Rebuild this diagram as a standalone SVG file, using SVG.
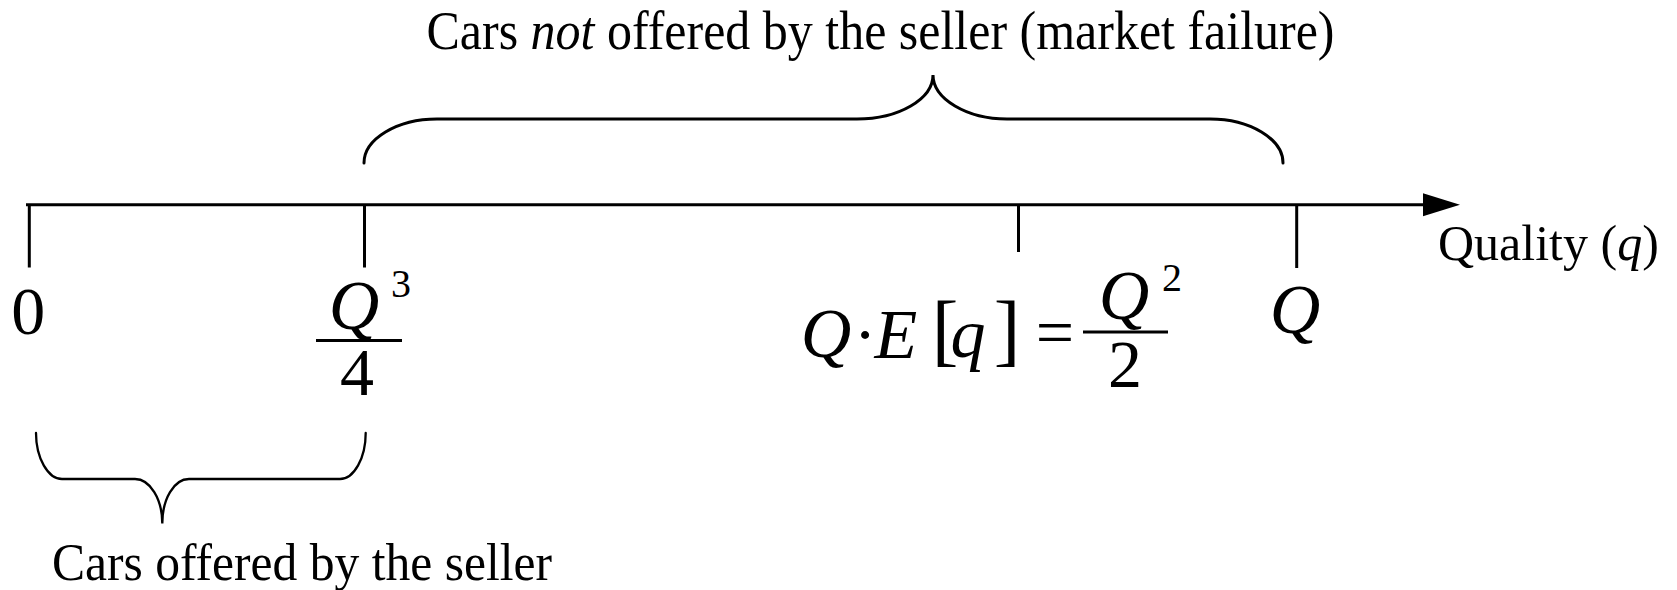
<svg xmlns="http://www.w3.org/2000/svg" width="1677" height="590" viewBox="0 0 1677 590">
  <style>
    .ln { stroke: #000; stroke-width: 3; fill: none; }
    .br { stroke: #000; stroke-width: 3; fill: none; stroke-linecap: round; }
    .br2 { stroke: #000; stroke-width: 2.3; fill: none; stroke-linecap: round; }
    .lbl { font-family: "Liberation Serif", "Times New Roman", serif; fill: #000; }
    .m { font-family: "Liberation Serif", "Times New Roman", serif; font-size: 68px; fill: #000; text-anchor: middle; }
    .mi { font-style: italic; font-size: 70px; }
    .sup { font-size: 40px; }
    .bk { font-size: 80px; }
  </style>
  <rect width="1677" height="590" fill="#fff"/>

  <g id="connectors">
    <line class="ln" x1="26" y1="204.8" x2="1425" y2="204.8"/>
    <polygon points="1423,193.3 1460,204.8 1423,216.3" fill="#000"/>
    <line class="ln" x1="29.3" y1="204.8" x2="29.3" y2="267.5"/>
    <line class="ln" x1="364.5" y1="204.8" x2="364.5" y2="267.5"/>
    <line class="ln" x1="1018.5" y1="204.8" x2="1018.5" y2="252"/>
    <line class="ln" x1="1296.7" y1="204.8" x2="1296.7" y2="268"/>
  </g>

  <g id="brace-top">
    <path class="br" d="M364,163 C364,139 397,119 437,119 H857 C899,119 933,99 933,75 C933,99 967,119 1007,119 H1210 C1250,119 1283,139 1283,163"/>
    <text class="lbl" x="426.5" y="49" font-size="54" textLength="908" lengthAdjust="spacingAndGlyphs">Cars <tspan font-style="italic">not</tspan> offered by the seller (market failure)</text>
  </g>

  <g id="brace-bottom">
    <path class="br2" d="M36,433 C36,458 48,479 62,479 H135 C150,479 162.3,499 162.3,523.5 C162.3,499 174,479 189,479 H340 C354,479 365.7,458 365.7,433"/>
    <text class="lbl" x="52" y="580" font-size="52" textLength="500" lengthAdjust="spacingAndGlyphs">Cars offered by the seller</text>
  </g>

  <g id="axis-label">
    <text class="lbl" x="1438" y="260" font-size="50">Quality (<tspan font-style="italic">q</tspan>)</text>
  </g>

  <g id="tick-0">
    <text class="m" x="28.3" y="334">0</text>
  </g>

  <g id="tick-q4">
    <text class="m mi" x="354" y="329">Q</text>
    <text class="m sup" x="401" y="297">3</text>
    <line class="ln" x1="316" y1="340.5" x2="402" y2="340.5"/>
    <text class="m" x="357" y="395">4</text>
  </g>

  <g id="tick-eq">
    <text class="m mi" x="826" y="357">Q</text>
    <text class="m" x="865" y="357">·</text>
    <text class="m mi" x="896" y="358">E</text>
    <text class="m bk" x="945" y="356">[</text>
    <text class="m mi" x="968" y="357">q</text>
    <text class="m bk" x="1007" y="356">]</text>
    <text class="m" x="1055" y="355" font-size="74">=</text>
    <line class="ln" x1="1083" y1="332" x2="1168" y2="332"/>
    <text class="m mi" x="1124" y="319">Q</text>
    <text class="m sup" x="1172" y="291">2</text>
    <text class="m" x="1125" y="387">2</text>
  </g>

  <g id="tick-Q">
    <text class="m mi" x="1295" y="333">Q</text>
  </g>
</svg>
